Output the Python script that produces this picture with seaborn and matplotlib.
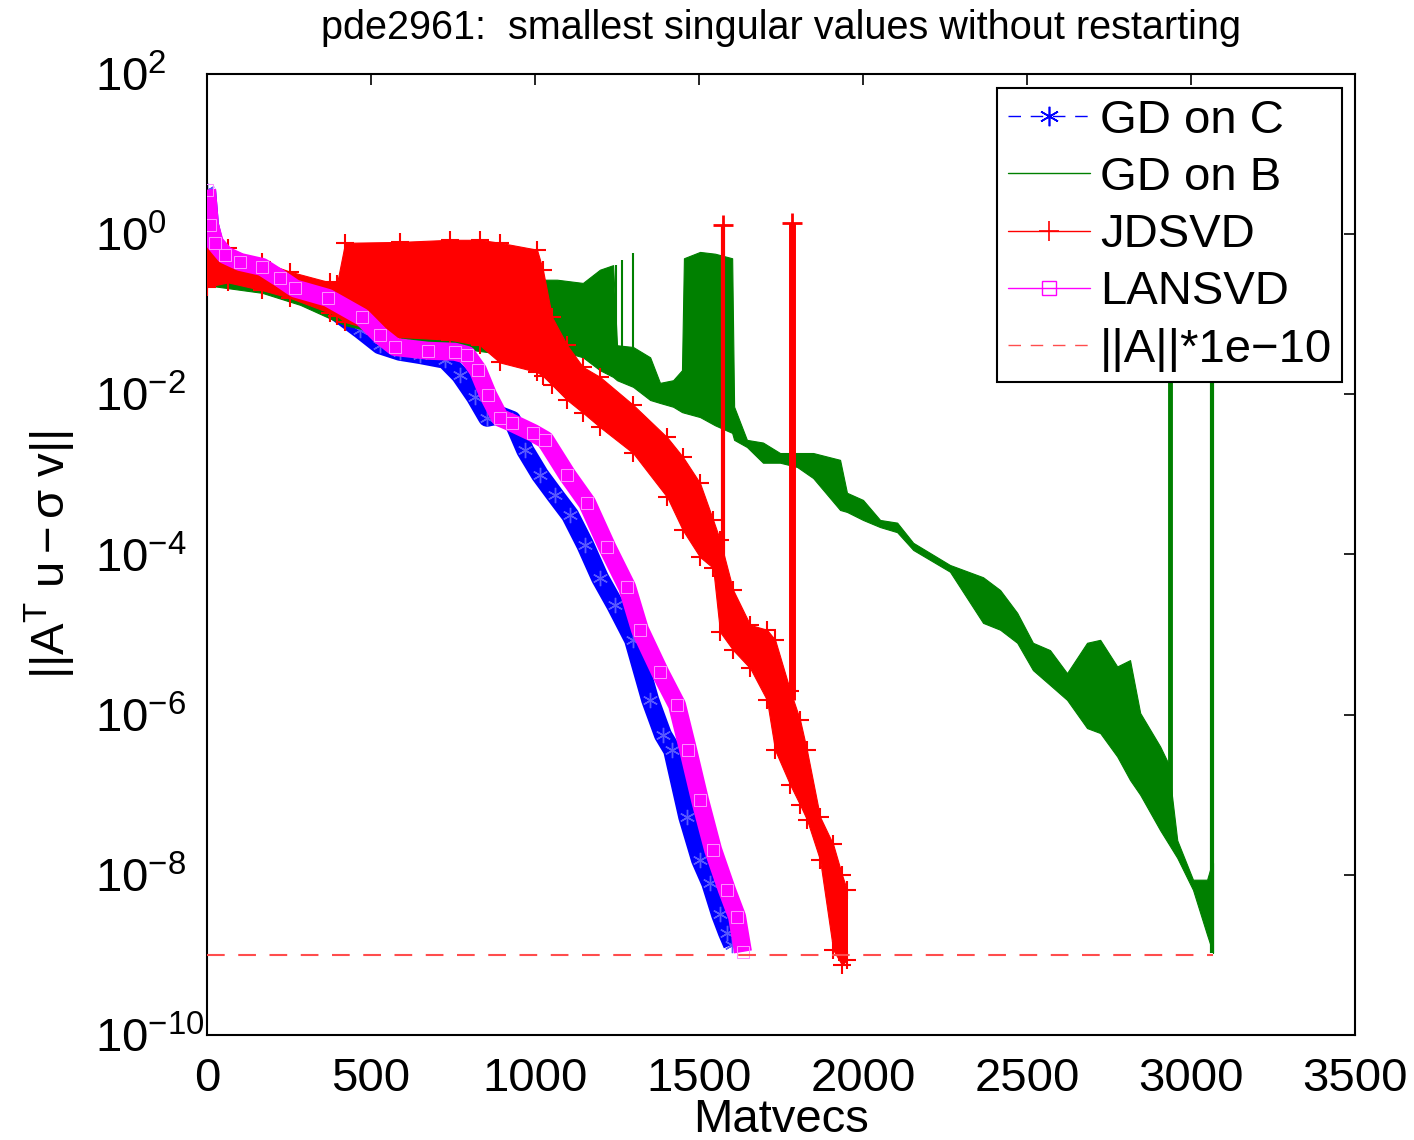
import numpy as np
import pandas as pd
import seaborn as sns
import matplotlib
matplotlib.use('Agg')
import matplotlib.pyplot as plt
from matplotlib.lines import Line2D

# GD on C: centre of the dense '*' marker band
gdc_x = [0, 9, 24, 55, 101, 162, 223, 284, 345, 406, 467, 527, 588, 649, 726, 771,
         817, 854, 893, 930, 970, 1015, 1061, 1107, 1153, 1198, 1244, 1299, 1351,
         1390, 1418, 1464, 1503, 1534, 1564, 1585, 1601]
gdc_y = [3.6, 1.3, 0.73, 0.50, 0.41, 0.34, 0.27, 0.20, 0.15, 0.098, 0.064, 0.041,
         0.034, 0.031, 0.027, 0.0175, 0.0093, 0.0051, 0.0055, 0.0048, 0.0020, 0.00099,
         0.00055, 0.00031, 0.000132, 5.1e-5, 2.35e-5, 8.6e-6, 1.53e-6, 5.6e-7, 3.6e-7,
         5.3e-8, 1.54e-8, 7.9e-9, 3.2e-9, 1.9e-9, 1.34e-9]

# LANSVD: centre of the dense square marker band
lan_x = [0, 9, 24, 55, 101, 168, 223, 268, 369, 473, 527, 573, 674, 756, 793, 826,
         857, 893, 930, 994, 1031, 1098, 1159, 1220, 1281, 1320, 1381, 1433, 1467,
         1503, 1543, 1585, 1616, 1634]
lan_y = [3.6, 1.3, 0.78, 0.55, 0.45, 0.39, 0.28, 0.21, 0.16, 0.092, 0.055, 0.039,
         0.035, 0.034, 0.031, 0.020, 0.0098, 0.0051, 0.0044, 0.0033, 0.0027, 0.00099,
         0.00044, 0.000124, 3.9e-5, 1.15e-5, 3.4e-6, 1.32e-6, 3.6e-7, 8.6e-8, 2.05e-8,
         6.5e-9, 3.0e-9, 1.09e-9]

# JDSVD: upper / lower envelope of the oscillating curve
jd_x = [0, 64, 168, 253, 375, 396, 421, 588, 741, 832, 893, 1006, 1024, 1052, 1098,
        1146, 1198, 1299, 1403, 1451, 1503, 1543, 1564, 1604, 1656, 1707, 1732, 1778,
        1808, 1829, 1869, 1909, 1936, 1951]
jd_hi = [0.92, 0.67, 0.45, 0.34, 0.25, 0.24, 0.78, 0.80, 0.85, 0.85, 0.78, 0.64,
         0.36, 0.092, 0.041, 0.022, 0.0165, 0.0074, 0.0029, 0.00165, 0.00078, 0.00027,
         0.000152, 3.6e-5, 1.32e-5, 1.15e-5, 8.6e-6, 2.0e-6, 8.6e-7, 3.6e-7, 5.3e-8,
         2.4e-8, 1.0e-8, 6.5e-9]
jd_lo = [0.22, 0.25, 0.20, 0.16, 0.104, 0.095, 0.080, 0.052, 0.048, 0.041, 0.025,
         0.019, 0.017, 0.0131, 0.0085, 0.0059, 0.0039, 0.00185, 0.00052, 0.0002,
         9.3e-5, 6.8e-5, 1.08e-5, 6.4e-6, 3.8e-6, 1.53e-6, 3.6e-7, 1.33e-7, 7.5e-8,
         4.9e-8, 1.54e-8, 1.16e-9, 7.5e-10, 8.7e-10]
jd_spike_x = [1573, 1784]
jd_spike_lo = [6.5e-5, 1.53e-6]
jd_spike_hi = [1.3, 1.38]

# GD on B: upper / lower envelope
gdb_x = [0, 168, 284, 421, 588, 802, 924, 1006, 1067, 1146, 1198, 1238, 1250, 1299,
         1351, 1381, 1421, 1448, 1454, 1503, 1549, 1601, 1607, 1646, 1695, 1747, 1799,
         1848, 1930, 1951, 2000, 2052, 2104, 2153, 2265, 2366, 2418, 2470, 2518, 2570,
         2622, 2683, 2723, 2775, 2814, 2845, 2906, 2930, 2958, 3006, 3049, 3064, 3067]
gdb_hi = [0.45, 0.246, 0.185, 0.107, 0.073, 0.055, 0.064, 0.27, 0.27, 0.246,
          0.36, 0.41, 0.041, 0.039, 0.029, 0.0139, 0.015, 0.020, 0.50, 0.60,
          0.57, 0.50, 0.0070, 0.0027, 0.0025, 0.00185, 0.00185, 0.00185, 0.00152, 0.00059,
          0.00048, 0.00027, 0.00025, 0.00014, 7.4e-5, 5.2e-5, 3.6e-5, 1.87e-5, 7.9e-6, 6.4e-6,
          3.3e-6, 7.9e-6, 8.6e-6, 4.0e-6, 4.8e-6, 1.05e-6, 4.0e-7, 2.5e-7, 2.7e-8, 8.7e-9,
          8.7e-9, 1.41e-8, 1.41e-8]
gdb_lo = [0.23, 0.185, 0.131, 0.073, 0.051, 0.036, 0.031, 0.027, 0.036, 0.029,
          0.020, 0.0165, 0.015, 0.0124, 0.0085, 0.0078, 0.0070, 0.0060, 0.0059, 0.0052,
          0.0041, 0.0033, 0.0027, 0.0022, 0.0014, 0.0014, 0.00124, 0.0009, 0.00036, 0.00034,
          0.00027, 0.00022, 0.00019, 0.000114, 6.1e-5, 1.4e-5, 1.15e-5, 7.9e-6, 3.6e-6, 2.35e-6,
          1.53e-6, 6.8e-7, 5.9e-7, 3.0e-7, 1.53e-7, 1.0e-7, 3.6e-8, 2.5e-8, 1.63e-8, 6.5e-9,
          1.78e-9, 1.16e-9, 1.06e-9]
gdb_spike_x = [1247, 1265, 1299, 2936, 3064]
gdb_spike_lo = [0.039, 0.039, 0.039, 2.5e-8, 1.06e-9]
gdb_spike_hi = [0.41, 0.48, 0.58, 1.0, 1.0]
gdb_spike_w = [1.5, 1.5, 1.5, 3.5, 3.0]

# tolerance line ||A||*1e-10
tol_x = [0, 3067]
tol_y = [1e-9, 1e-9]

labels = ['GD on C', 'GD on B', 'JDSVD', 'LANSVD', '||A||*1e\u221210']
x_ticks = [0, 500, 1000, 1500, 2000, 2500, 3000, 3500]
y_ticks = [1e-10, 1e-8, 1e-6, 1e-4, 1e-2, 1e0, 1e2]

BLUE, GREEN, RED, MAG = (0, 0, 1), (0, 0.5, 0), (1, 0, 0), (1, 0, 1)
ASTERISK = (6, 2, 0)

sns.set_style('white')
plt.rcParams['font.family'] = ['Liberation Sans', 'DejaVu Sans']
plt.rcParams['mathtext.fontset'] = 'custom'
plt.rcParams['mathtext.rm'] = 'Liberation Sans'
plt.rcParams['mathtext.it'] = 'Liberation Sans'
plt.rcParams['mathtext.default'] = 'regular'
for key in ['text.color', 'axes.labelcolor', 'xtick.color', 'ytick.color']:
    plt.rcParams[key] = 'black'

fig = plt.figure(figsize=(14.14, 11.40), dpi=100)
ax = fig.add_axes([0.1464, 0.0921, 0.8119, 0.8430])
ax.set_yscale('log')

# GD on C
sns.lineplot(x=gdc_x, y=gdc_y, ax=ax, color=BLUE, lw=13, marker=ASTERISK, markersize=11,
             markeredgecolor=(0.35, 0.35, 1), markeredgewidth=1, estimator=None,
             sort=False, zorder=2, solid_capstyle='butt')

# GD on B
ax.fill_between(gdb_x, gdb_lo, gdb_hi, color=GREEN, lw=0.8, edgecolor=GREEN, zorder=3)
for sx, lo, hi, w in zip(gdb_spike_x, gdb_spike_lo, gdb_spike_hi, gdb_spike_w):
    ax.plot([sx, sx], [lo, hi], color=GREEN, lw=w, zorder=3, solid_capstyle='butt')

# JDSVD
ax.fill_between(jd_x, jd_lo, jd_hi, color=RED, lw=0.8, edgecolor=RED, zorder=4)
ax.plot(jd_x, jd_hi, ls='none', marker='+', ms=13, mew=1.5, color=RED, zorder=4)
ax.plot(jd_x, jd_lo, ls='none', marker='+', ms=13, mew=1.5, color=RED, zorder=4)
for sx, lo, hi, w in zip(jd_spike_x, jd_spike_lo, jd_spike_hi, [3.0, 5.0]):
    ax.plot([sx, sx], [lo, hi], color=RED, lw=w, zorder=4, solid_capstyle='butt')
    ax.plot([sx], [hi], marker='+', ms=14, mew=2, color=RED, zorder=4)

# LANSVD
sns.lineplot(x=lan_x, y=lan_y, ax=ax, color=MAG, lw=13, marker='s', markersize=9,
             markerfacecolor='none', markeredgecolor=(1, 0.55, 1), estimator=None,
             sort=False, zorder=5, solid_capstyle='butt')

# tolerance
sns.lineplot(x=tol_x, y=tol_y, ax=ax, color=(1, 0.3, 0.3), lw=1.5,
             zorder=6).lines[-1].set_dashes((8.5, 6.5))

ax.set_xlim(0, 3500)
ax.set_ylim(1e-10, 1e2)
ax.set_xticks(x_ticks)
ax.set_xticklabels([str(t) for t in x_ticks])
ax.set_yticks(y_ticks)
ax.yaxis.set_minor_locator(matplotlib.ticker.NullLocator())
ax.tick_params(which='both', direction='in', top=True, right=True, length=8,
               width=1.2, labelsize=34, color='black')
ax.tick_params(axis='x', pad=16)
ax.tick_params(axis='y', pad=81)
plt.setp(ax.get_yticklabels(), ha='left')
for sp in ax.spines.values():
    sp.set_color('black')
    sp.set_linewidth(1.5)

ax.set_title('pde2961:  smallest singular values without restarting',
             fontsize=28.5, pad=25)
ax.set_xlabel('Matvecs', fontsize=34, labelpad=-2)
ax.set_ylabel(r'$||A^{T}\ u - \sigma\ v||$', fontsize=34)
ax.yaxis.set_label_coords(-0.112, 0.5)

handles = [
    Line2D([], [], color=BLUE, lw=1, ls=(0, (9, 7)), marker=ASTERISK, ms=14, mew=1.2),
    Line2D([], [], color=GREEN, lw=1),
    Line2D([], [], color=RED, lw=1, marker='+', ms=14, mew=1.2),
    Line2D([], [], color=MAG, lw=1, marker='s', ms=10, mfc='none'),
    Line2D([], [], color=(1, 0.3, 0.3), lw=1, ls=(0, (9, 7))),
]
leg = ax.legend(handles, labels, loc='upper right', bbox_to_anchor=(0.989, 0.985),
                borderaxespad=0, fontsize=34, fancybox=False, framealpha=1,
                edgecolor='black', handlelength=1.75, handletextpad=0.2,
                labelspacing=0.28, borderpad=0.22)
leg.get_frame().set_linewidth(1.5)
leg.set_zorder(10)

fig.savefig('out.png', dpi=100)
